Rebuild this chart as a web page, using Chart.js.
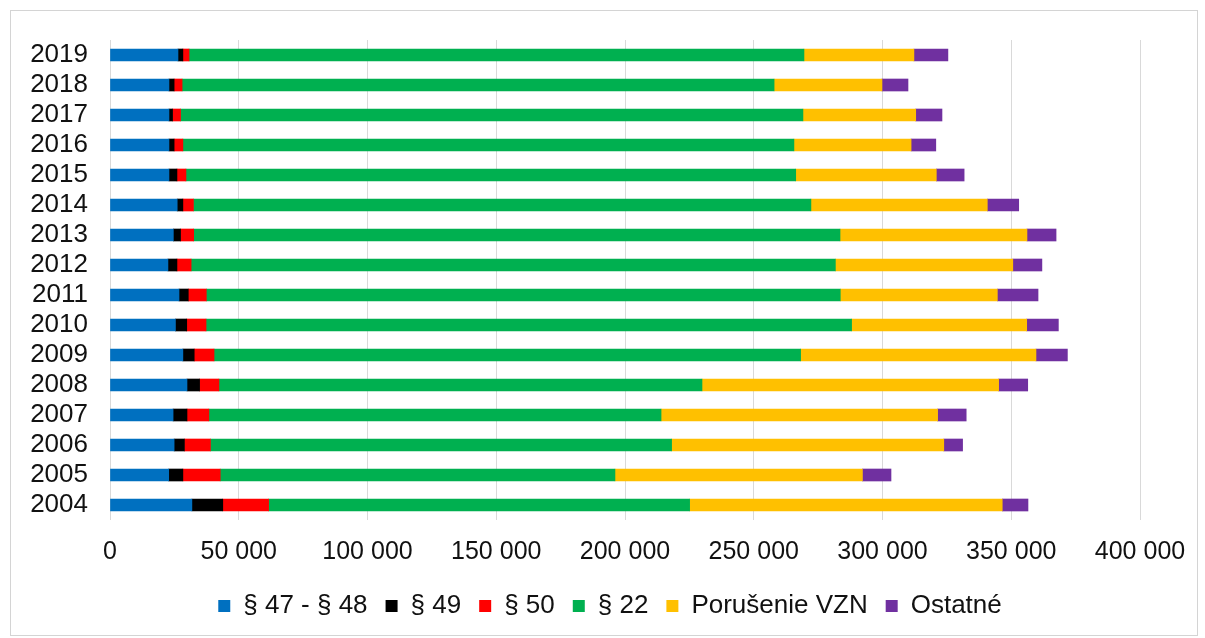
<!DOCTYPE html>
<html>
<head>
<meta charset="utf-8">
<script src="https://cdn.jsdelivr.net/npm/chart.js@4.4.1/dist/chart.umd.min.js"></script>
<style>
  html, body { margin: 0; padding: 0; background: #ffffff; }
  #wrap { position: relative; width: 1205px; height: 638px; }
  #c { position: absolute; left: 0; top: 0; }
  #frame { position: absolute; left: 10px; top: 10px; width: 1186px; height: 624px;
           border: 1px solid #d4d4d4; pointer-events: none; }
</style>
</head>
<body>
<div id="wrap">
  <canvas id="c" width="1205" height="638"></canvas>
  <div id="frame"></div>
</div>
<script>
const years = ['2019','2018','2017','2016','2015','2014','2013','2012','2011','2010','2009','2008','2007','2006','2005','2004'];
const par4748 = [26400,22900,22900,22900,22900,26100,24600,22500,26800,25400,28300,29900,24500,24900,22800,31800];
const par49   = [1900,2000,1400,2000,3100,2200,2800,3500,3600,4400,4400,4900,5400,4000,5500,12000];
const par50   = [2400,3100,3100,3400,3500,4100,5100,5500,7000,7500,7700,7500,8500,10100,14500,17800];
const par22   = [238800,229900,241700,237300,236800,239800,251000,250200,246200,250700,227800,187600,175600,179100,153300,163500];
const vzn     = [42700,41900,43800,45500,54600,68500,72600,68900,61000,68000,91400,115200,107400,105700,96100,121400];
const ostatne = [13200,10100,10200,9600,10800,12200,11300,11300,15800,12300,12200,11300,11100,7300,11100,10000];
const seriesNames = ['§ 47 - § 48','§ 49','§ 50','§ 22','Porušenie VZN','Ostatné'];
const seriesColors = ['#0070C0','#000000','#FF0000','#00B050','#FFC000','#7030A0'];
const seriesData = [par4748, par49, par50, par22, vzn, ostatne];
const xMax = 400000, xStep = 50000;

const FONT = '"Liberation Sans", Arial, sans-serif';

const legendFix = {
  id: 'legendFix',
  beforeLayout(chart) {
    const lg = chart.legend;
    if (lg && !lg._patched) {
      const f = lg.fit;
      lg.fit = function () { f.call(this); this.height = 63; };
      lg._patched = true;
    }
  },
  afterLayout(chart) {
    const lg = chart.legend;
    if (lg) { lg.left += 40; lg.right += 40; }
  }
};

new Chart(document.getElementById('c'), {
  type: 'bar',
  data: {
    labels: years,
    datasets: seriesData.map((d, i) => ({
      label: seriesNames[i],
      data: d,
      backgroundColor: seriesColors[i],
      borderWidth: 0,
      barThickness: 12,
      categoryPercentage: 1,
      barPercentage: 1
    }))
  },
  options: {
    indexAxis: 'y',
    responsive: false,
    animation: false,
    devicePixelRatio: 1,
    layout: { padding: { top: 40, right: 65, left: 0, bottom: 0 } },
    scales: {
      x: {
        stacked: true,
        min: 0,
        max: xMax,
        ticks: {
          stepSize: xStep,
          color: '#111',
          padding: 17,
          maxRotation: 0,
          font: { family: FONT, size: 25 },
          callback: v => String(v).replace(/\B(?=(\d{3})+(?!\d))/g, ' ')
        },
        grid: { color: '#d9d9d9', lineWidth: 1, drawTicks: false },
        border: { display: false },
        afterFit: s => { s.height = 55; }
      },
      y: {
        stacked: true,
        ticks: { color: '#111', padding: 22, autoSkip: false, font: { family: FONT, size: 26 } },
        grid: { display: false, drawTicks: false },
        border: { display: false },
        afterFit: s => { s.width = 110; }
      }
    },
    plugins: {
      legend: {
        position: 'bottom',
        labels: {
          boxWidth: 12,
          boxHeight: 12,
          padding: 18,
          color: '#111',
          font: { family: FONT, size: 26 }
        }
      },
      tooltip: { enabled: false }
    }
  },
  plugins: [legendFix]
});
</script>
</body>
</html>
